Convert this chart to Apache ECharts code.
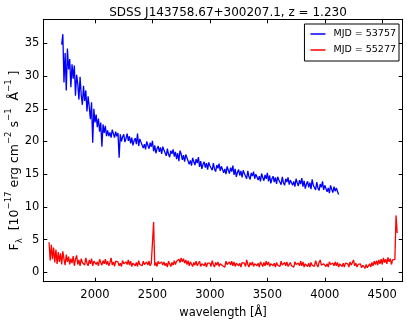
<!DOCTYPE html>
<html>
<head>
<meta charset="utf-8">
<script src="https://cdn.jsdelivr.net/npm/echarts@6/dist/echarts.min.js"></script>
<style>
    html, body { margin: 0; padding: 0; background: #fff; }
    #chart { width: 407px; height: 327px; }
</style>
</head>
<body>
<div id="chart"></div>
<script>
// wavelength grid of the two spectra (Å)
const blueStart = 1710;
const redStart = 1600;
const step = 10;

// MJD = 53757, flux every 10 Å from 1710 Å
const blueFlux = [
    34.8, 36.4, 29.0, 33.5, 27.8, 34.2, 31.0, 32.6, 28.3, 31.8,
    29.6, 31.6, 27.0, 30.2, 28.8, 26.4, 29.9, 27.1, 25.6, 28.5,
    26.2, 27.8, 24.6, 26.9, 25.3, 23.4, 26.0, 19.8, 25.0, 22.9,
    24.1, 22.2, 23.5, 21.5, 22.9, 19.2, 22.6, 21.3, 22.4, 20.8,
    21.7, 20.8, 21.4, 20.6, 21.8, 21.2, 20.6, 21.5, 20.8, 21.3,
    17.5, 21.1, 20.0, 20.7, 21.1, 19.9, 20.5, 21.2, 20.1, 20.8,
    19.7, 20.6, 19.4, 20.1, 20.5, 19.6, 21.2, 19.3, 20.4, 19.9,
    19.9, 19.0, 19.6, 18.8, 20.0, 19.4, 18.9, 19.8, 19.2, 20.1,
    18.5, 19.4, 18.2, 18.9, 19.3, 18.4, 19.1, 18.1, 19.2, 18.7,
    18.5, 17.8, 18.9, 18.0, 17.6, 18.6, 18.1, 18.8, 17.7, 18.4,
    17.3, 18.2, 17.0, 18.6, 18.1, 17.2, 17.9, 16.9, 18.0, 17.5,
    17.4, 16.5, 17.1, 16.3, 17.5, 16.9, 16.4, 17.3, 16.7, 17.6,
    16.1, 17.0, 15.8, 16.5, 16.9, 16.0, 16.7, 15.7, 16.8, 16.3,
    16.3, 15.6, 16.7, 15.8, 15.4, 16.4, 15.9, 16.6, 15.5, 16.2,
    16.1, 15.2, 15.8, 15.0, 16.2, 15.6, 15.1, 16.0, 15.4, 16.3,
    14.9, 15.8, 14.6, 15.3, 15.7, 14.8, 15.5, 14.5, 15.6, 15.1,
    15.1, 14.3, 15.5, 14.6, 14.2, 15.2, 14.7, 15.4, 14.3, 15.0,
    15.0, 14.1, 14.7, 13.9, 15.1, 14.5, 14.0, 14.9, 14.3, 15.2,
    13.9, 14.8, 13.6, 14.3, 14.7, 13.8, 14.5, 13.5, 14.6, 14.1,
    14.2, 13.4, 14.6, 13.7, 13.3, 14.3, 13.8, 14.5, 13.4, 14.1,
    14.2, 13.3, 13.9, 13.1, 14.3, 13.7, 13.2, 14.1, 13.5, 14.4,
    13.1, 14.0, 12.8, 13.5, 13.9, 13.0, 13.7, 12.7, 14.2, 13.3,
    13.4, 12.6, 13.8, 12.9, 12.5, 13.5, 13.0, 13.9, 12.6, 13.3,
    13.2, 12.3, 12.9, 12.1, 13.3, 12.7, 12.2, 13.1, 12.4, 12.9,
    12.4, 11.9
];

// MJD = 55277, flux every 10 Å from 1600 Å
const redFlux = [
    4.6, 1.8, 4.2, 2.0, 3.8, 1.5, 3.5, 1.3, 3.1, 1.6,
    2.9, 1.2, 3.2, 2.0, 1.1, 2.7, 1.6, 2.4, 1.2, 2.1,
    1.4, 2.5, 1.0, 2.0, 2.6, 1.2, 1.9, 1.0, 2.1, 1.5,
    1.8, 1.1, 2.2, 1.4, 1.0, 1.9, 1.3, 2.1, 1.0, 1.7,
    1.9, 1.2, 1.6, 1.0, 2.0, 1.5, 1.1, 1.8, 1.3, 2.0,
    1.2, 1.7, 1.0, 1.5, 2.2, 1.1, 1.6, 0.9, 1.7, 1.4,
    1.6, 1.0, 1.4, 0.9, 1.8, 1.3, 1.0, 1.6, 1.2, 1.9,
    1.1, 1.7, 0.9, 1.4, 1.6, 1.0, 1.5, 0.9, 1.8, 1.2,
    1.5, 1.0, 1.7, 1.2, 0.9, 1.6, 1.1, 1.7, 1.0, 1.4,
    1.6, 7.7, 1.0, 1.5, 0.9, 1.7, 1.3, 1.0, 1.6, 1.1,
    1.6, 1.0, 1.4, 0.8, 1.7, 1.3, 0.9, 1.5, 1.1, 1.8,
    1.2, 1.7, 1.4, 2.0, 1.5, 2.2, 1.6, 2.1, 1.4, 1.9,
    1.2, 1.8, 1.0, 1.6, 1.3, 0.9, 1.5, 1.1, 1.7, 1.0,
    1.1, 1.7, 0.9, 1.3, 1.6, 1.0, 1.5, 0.8, 1.4, 1.2,
    1.4, 0.9, 1.8, 1.2, 0.8, 1.5, 1.1, 1.6, 0.9, 1.3,
    1.5, 1.0, 1.3, 0.8, 1.7, 1.2, 0.9, 1.6, 1.1, 1.7,
    1.0, 1.6, 0.9, 1.4, 1.7, 1.0, 1.4, 0.8, 1.5, 1.2,
    1.4, 0.9, 1.9, 1.2, 0.8, 1.5, 1.1, 1.6, 0.9, 1.3,
    1.6, 1.0, 1.4, 0.8, 1.6, 1.3, 0.9, 1.5, 1.0, 1.7,
    1.1, 1.6, 0.9, 1.3, 1.5, 1.0, 1.4, 0.8, 1.5, 1.1,
    1.3, 0.9, 1.7, 1.1, 0.8, 1.5, 1.0, 1.6, 0.9, 1.2,
    1.5, 1.0, 1.3, 0.8, 1.6, 1.2, 0.9, 1.4, 1.0, 1.7,
    1.0, 1.6, 0.8, 1.3, 1.5, 0.9, 1.4, 0.8, 1.5, 1.1,
    1.4, 0.9, 1.8, 1.2, 0.8, 1.5, 1.9, 1.1, 0.9, 1.3,
    1.5, 0.9, 1.3, 0.8, 1.6, 1.2, 0.9, 1.4, 1.0, 1.6,
    1.0, 1.5, 0.8, 1.3, 1.5, 0.9, 1.4, 0.8, 1.4, 1.1,
    1.3, 0.8, 1.6, 1.1, 0.9, 1.9, 1.0, 1.4, 0.8, 1.2,
    0.9, 1.3, 0.7, 1.1, 1.4, 0.6, 1.2, 0.7, 1.0, 1.3,
    0.8, 1.5, 1.0, 1.7, 1.2, 1.8, 1.1, 1.9, 1.3, 2.0,
    1.2, 2.2, 1.5, 2.0, 1.3, 2.3, 1.6, 2.1, 1.2, 1.9,
    1.6, 2.0, 8.7, 6.0
];

const xTicks = [2000, 2500, 3000, 3500, 4000, 4500];
const yTicks = [0, 5, 10, 15, 20, 25, 30, 35];
const seriesNames = ["MJD = 53757", "MJD = 55277"];

const font = "DejaVu Sans";

function toPoints(start, flux) {
    return flux.map((v, i) => [start + i * step, v]);
}

const chart = echarts.init(document.getElementById("chart"));

const xBase = {
    type: "value",
    min: 1550,
    max: 4678,
    axisLine: { show: true, onZero: false, lineStyle: { color: "#000", width: 1 } },
    axisTick: { show: true, inside: true, length: 4, customValues: xTicks, lineStyle: { color: "#000" } },
    splitLine: { show: false },
};
const yBase = {
    type: "value",
    min: -1.43,
    max: 38.67,
    axisLine: { show: true, onZero: false, lineStyle: { color: "#000", width: 1 } },
    axisTick: { show: true, inside: true, length: 4, customValues: yTicks, lineStyle: { color: "#000" } },
    splitLine: { show: false },
};

chart.setOption({
    animation: false,
    backgroundColor: "#fff",
    textStyle: { fontFamily: font },
    title: {
        text: "SDSS J143758.67+300207.1, z = 1.230",
        left: 223,
        textAlign: "center",
        top: 2,
        textStyle: { fontFamily: font, fontSize: 12, fontWeight: "normal", color: "#000" },
    },
    legend: {
        orient: "vertical",
        right: 8,
        top: 24,
        data: seriesNames,
        icon: "rect",
        itemWidth: 15,
        itemHeight: 1.5,
        itemGap: 6,
        padding: [5, 3, 6, 6],
        borderColor: "#000",
        borderWidth: 1,
        backgroundColor: "#fff",
        textStyle: { fontFamily: font, fontSize: 9.5, color: "#000", padding: [0, 0, 0, 3] },
    },
    grid: { left: 43.3, right: 4.3, top: 19.3, bottom: 45.3, outerBoundsMode: "none", containLabel: false },
    xAxis: [
        Object.assign({}, xBase, {
            position: "bottom",
            name: "wavelength [Å]",
            nameLocation: "middle",
            nameGap: 25,
            nameMoveOverlap: false,
            nameTextStyle: { fontFamily: font, fontSize: 11.5, color: "#000" },
            axisLabel: {
                show: true, customValues: xTicks, margin: 7, fontFamily: font, fontSize: 11.5, color: "#000",
                formatter: (v) => String(v),
            },
        }),
        Object.assign({}, xBase, { position: "top", axisLabel: { show: false } }),
    ],
    yAxis: [
        Object.assign({}, yBase, {
            position: "left",
            name: "{a|F}{sub|λ}{a|  [10}{sup|−17}{a| erg cm}{sup|−2}{a| s}{sup|−1}{a|  Å}{sup|−1}{a| ]}{pad|}",
            nameLocation: "middle",
            nameRotate: 90,
            nameGap: 22,
            nameMoveOverlap: false,
            nameTextStyle: {
                fontFamily: font,
                color: "#000",
                rich: {
                    a: { fontFamily: font, fontSize: 12.5, color: "#000", lineHeight: 17, verticalAlign: "bottom" },
                    sup: { fontFamily: font, fontSize: 8.5, color: "#000", lineHeight: 17, verticalAlign: "top" },
                    sub: { fontFamily: font, fontSize: 8.5, color: "#000", lineHeight: 17, verticalAlign: "bottom", padding: [0, 0, -3, 0] },
                    pad: { width: 20, lineHeight: 17 },
                },
            },
            axisLabel: {
                show: true, customValues: yTicks, margin: 4, fontFamily: font, fontSize: 11.5, color: "#000",
                formatter: (v) => String(v),
            },
        }),
        Object.assign({}, yBase, { position: "right", axisLabel: { show: false } }),
    ],
    series: [
        {
            name: seriesNames[0],
            type: "line",
            data: toPoints(blueStart, blueFlux),
            symbol: "none",
            lineStyle: { color: "#0000ff", width: 1.3 },
            itemStyle: { color: "#0000ff" },
            z: 3,
        },
        {
            name: seriesNames[1],
            type: "line",
            data: toPoints(redStart, redFlux),
            symbol: "none",
            lineStyle: { color: "#ff0000", width: 1.3 },
            itemStyle: { color: "#ff0000" },
            z: 2,
        },
    ],
});
</script>
</body>
</html>
